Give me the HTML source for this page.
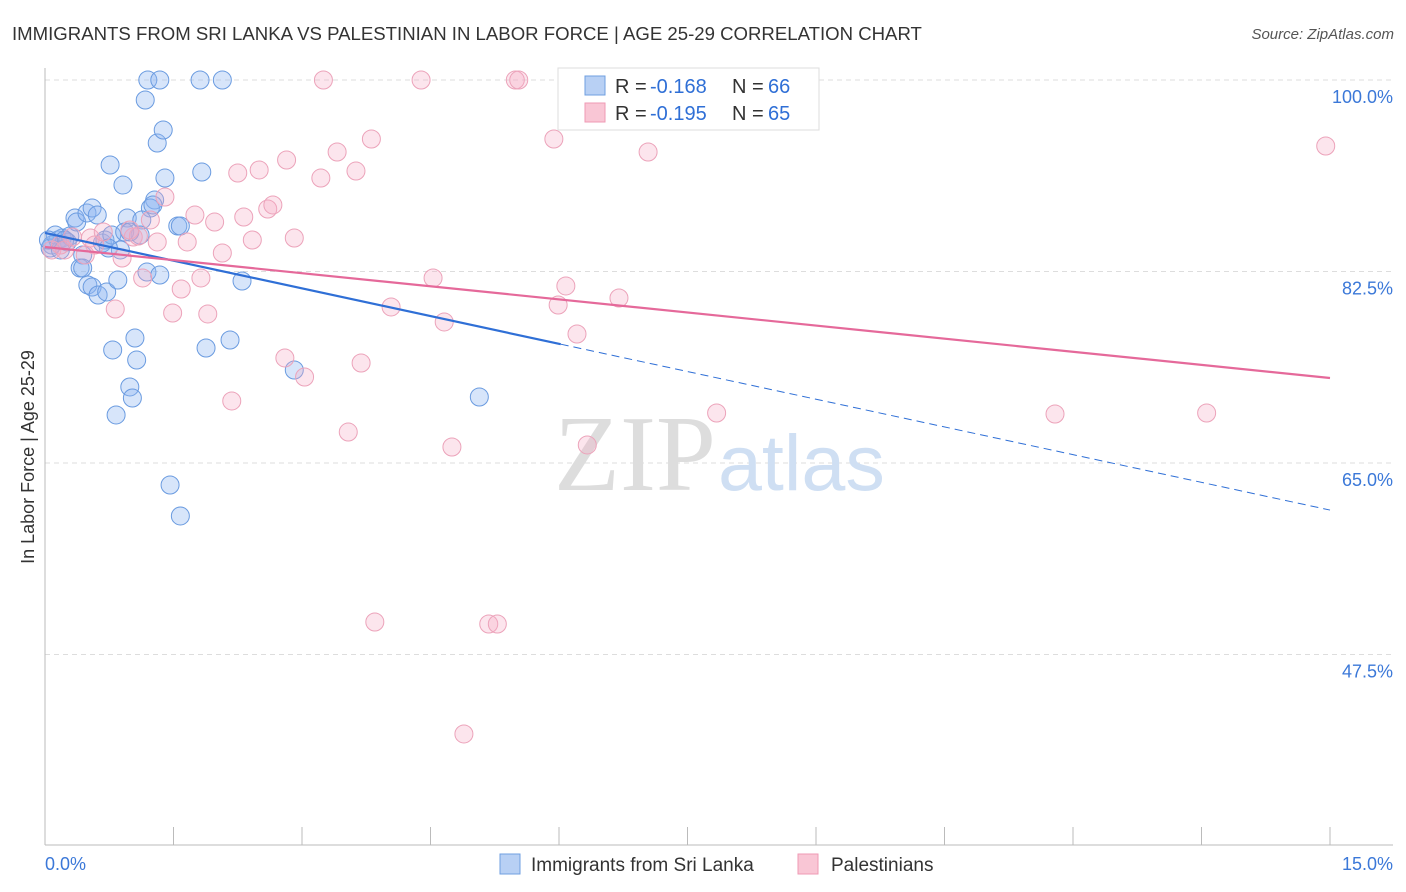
<!DOCTYPE html>
<html><head><meta charset="utf-8"><style>
body{margin:0;background:#fff;font-family:"Liberation Sans",sans-serif}
#wrap{position:relative;width:1406px;height:892px;overflow:hidden}
</style></head><body><div id="wrap">
<svg id="svg" width="1406" height="892" xmlns="http://www.w3.org/2000/svg">
<text x="12" y="40" font-size="18.6" fill="#333">IMMIGRANTS FROM SRI LANKA VS PALESTINIAN IN LABOR FORCE | AGE 25-29 CORRELATION CHART</text>
<text x="1394" y="39" font-size="15" fill="#555" font-style="italic" text-anchor="end">Source: ZipAtlas.com</text>
<text x="0" y="0" transform="translate(34,457) rotate(-90)" font-size="18" fill="#333" text-anchor="middle">In Labor Force | Age 25-29</text>
<g id="grid"></g>
<text x="716" y="490" font-size="108" font-family="Liberation Serif,serif" fill="#ddd" text-anchor="end">ZIP</text>
<text x="718" y="490" font-size="79" fill="#cfdff3">atlas</text>
<g id="pts"></g>
<g id="lines"></g>
<g>
<rect x="558" y="68" width="261" height="62" fill="#fff" stroke="#ddd"/>
<rect x="585" y="76" width="20" height="19" fill="#b8d0f4" stroke="#6f9fe0"/>
<rect x="585" y="103" width="20" height="19" fill="#f9c6d5" stroke="#ef9ab4"/>
<text x="615" y="93" font-size="20" fill="#333">R =</text>
<text x="650" y="93" font-size="20" fill="#2f6fd6">-0.168</text>
<text x="732" y="93" font-size="20" fill="#333">N =</text>
<text x="768" y="93" font-size="20" fill="#2f6fd6">66</text>
<text x="615" y="120" font-size="20" fill="#333">R =</text>
<text x="650" y="120" font-size="20" fill="#2f6fd6">-0.195</text>
<text x="732" y="120" font-size="20" fill="#333">N =</text>
<text x="768" y="120" font-size="20" fill="#2f6fd6">65</text>
</g>
<g>
<rect x="500" y="854" width="20" height="20" fill="#b8d0f4" stroke="#6f9fe0"/>
<text x="531" y="871" font-size="19" fill="#333">Immigrants from Sri Lanka</text>
<rect x="798" y="854" width="20" height="20" fill="#f9c6d5" stroke="#ef9ab4"/>
<text x="831" y="871" font-size="19" fill="#333">Palestinians</text>
</g>
</svg></div>
<script>
const yTicks=[100,82.5,65,47.5];
const yTickLabels=["100.0%","82.5%","65.0%","47.5%"];
const xTickLabels=["0.0%","15.0%"];
const blueX=[.08,.15,.20,.29,.06,.12,.26,.35,.37,.49,.55,.61,.44,.41,.44,.50,.55,.62,.72,.67,.70,.78,.76,.91,.96,.85,.79,1.05,1.07,.99,1.02,.83,1.17,1.20,1.34,1.31,1.38,1.40,1.28,1.23,1.13,1.26,1.55,1.58,1.11,.93,.88,1.19,1.34,1.81,2.07,1.83,1.88,2.16,2.30,2.91,5.07,1.46,1.58,.99,.23,.18,.04,.74];
const blueY=[84.92,85.38,85.56,85.74,84.65,85.84,85.20,87.39,87.02,87.85,88.30,87.66,84.01,82.82,82.82,81.27,81.08,80.35,80.63,85.10,85.38,85.84,92.23,90.40,87.39,81.72,75.33,76.42,74.41,71.95,70.94,69.39,98.17,100,100,94.24,95.43,91.04,89.03,88.30,87.21,88.58,86.66,86.66,85.84,86.11,84.47,82.45,82.18,100,100,91.59,75.51,76.24,81.63,73.50,71.03,62.99,60.16,86.11,85.38,84.47,85.38,84.65];
const pinkX=[.08,.18,.23,.32,.53,.58,.68,.82,.90,1.03,1.09,1.23,1.31,1.40,1.14,1.49,1.59,1.66,1.75,1.82,1.90,1.98,2.07,2.18,2.25,2.32,2.42,2.50,2.60,2.66,2.80,2.82,2.91,3.03,3.22,3.25,3.41,3.54,3.63,3.69,3.81,3.85,4.04,4.39,4.53,4.66,4.75,4.89,5.18,5.28,5.49,5.53,5.94,5.99,6.08,6.21,6.33,6.70,7.04,7.84,11.79,13.56,14.95,.99,.47];
const pinkY=[84.47,84.92,84.47,85.65,85.56,84.92,86.11,79.07,83.73,85.65,85.74,87.21,85.20,89.31,81.91,78.71,80.90,85.20,87.66,81.91,78.62,87.02,84.19,70.67,91.50,87.48,85.38,91.78,88.21,88.58,74.60,92.69,85.56,72.86,91.04,100,93.42,67.83,91.68,74.14,94.61,50.47,79.26,100,81.91,77.89,66.46,40.24,50.29,50.29,100,100,94.61,79.44,81.18,76.79,66.65,80.08,93.42,69.57,69.48,69.57,93.97,86.29,84.01];
const blueTrend=[86.02,-1.688];
const pinkTrend=[84.74,-0.798];
const NS='http://www.w3.org/2000/svg';
const X=v=>45+v*85.667, Y=v=>80+(100-v)*10.943;
function mk(t,a,p){const e=document.createElementNS(NS,t);for(const k in a)e.setAttribute(k,a[k]);p.appendChild(e);return e;}
const grid=document.getElementById('grid');
yTicks.forEach((t,i)=>{
 const l=mk('line',{x1:45,x2:1393,y1:Y(t),y2:Y(t),stroke:'#ddd','stroke-dasharray':'5,4'},grid);
 
 
 const tx=mk('text',{x:1393,y:Y(t)+23,'font-size':18,fill:'#3b78d8','text-anchor':'end'},grid);
 tx.textContent=yTickLabels[i];
 
 
});
const ax=mk('line',{x1:45,x2:45,y1:68,y2:845,stroke:'#bbb'},grid);


const bx=mk('line',{x1:45,x2:1393,y1:845,y2:845,stroke:'#bbb'},grid);


for(let i=0;i<=10;i++){const t=mk('line',{x1:X(i*1.5),x2:X(i*1.5),y1:827,y2:845,stroke:'#bbb'},grid);
 
 }
[[0,'start'],[15,'end']].forEach((d,i)=>{const t=mk('text',{x:d[0]?1393:45,y:870,'font-size':18,fill:'#3b78d8','text-anchor':d[1]},grid);t.textContent=xTickLabels[i];
 
 });
const pts=document.getElementById('pts');
blueX.forEach((x,i)=>{const c=mk('circle',{cx:X(x),cy:Y(blueY[i]),r:9,fill:'rgba(140,180,240,0.35)',stroke:'#6a9be0','stroke-width':1},pts);
 
 });
pinkX.forEach((x,i)=>{const c=mk('circle',{cx:X(x),cy:Y(pinkY[i]),r:9,fill:'rgba(245,170,195,0.3)',stroke:'#eca3ba','stroke-width':1},pts);
 
 });
const ln=document.getElementById('lines');
const bmax=Math.max(...blueX)+0.95;
let l1=mk('line',{x1:X(0),y1:Y(blueTrend[0]),x2:X(bmax),y2:Y(blueTrend[0]+blueTrend[1]*bmax),stroke:'#2f6fd6','stroke-width':2.2},ln);


let l2=mk('line',{x1:X(bmax),y1:Y(blueTrend[0]+blueTrend[1]*bmax),x2:X(15),y2:Y(blueTrend[0]+blueTrend[1]*15),stroke:'#2f6fd6','stroke-width':1,'stroke-dasharray':'8,5'},ln);


let l3=mk('line',{x1:X(0),y1:Y(pinkTrend[0]),x2:X(15),y2:Y(pinkTrend[0]+pinkTrend[1]*15),stroke:'#e5699a','stroke-width':2.2},ln);


</script></body></html>
